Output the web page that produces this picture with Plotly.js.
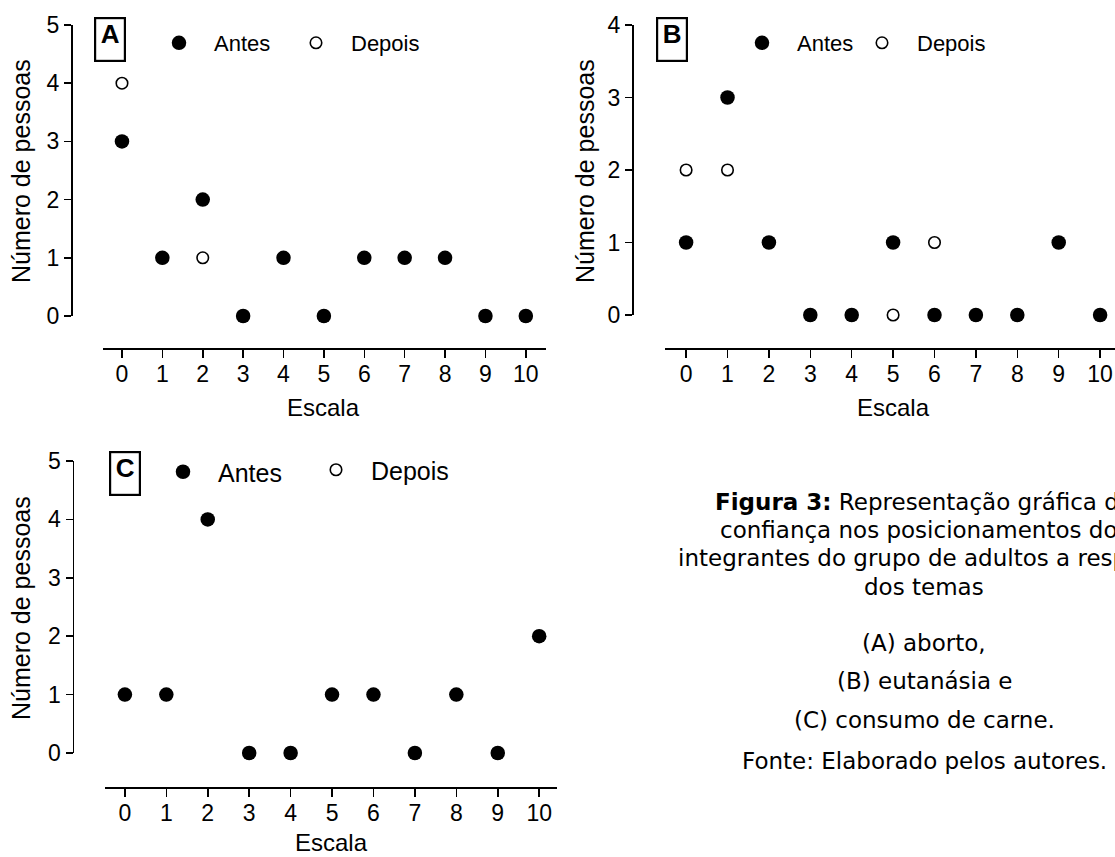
<!DOCTYPE html>
<html>
<head>
<meta charset="utf-8">
<script src="https://cdn.plot.ly/plotly-3.0.1.min.js"></script>
<style>html,body{margin:0;padding:0;background:#fff;}#chart{width:1115px;height:857px;}</style>
</head>
<body>
<div id="chart"></div>
<script>
// ---- data ----
const escala = [0, 1, 2, 3, 4, 5, 6, 7, 8, 9, 10];
const escalaLabels = ["0", "1", "2", "3", "4", "5", "6", "7", "8", "9", "10"];

// (A) aborto
const antesA  = [3, 1, 2, 0, 1, 0, 1, 1, 1, 0, 0];
const depoisA = [4, 1, 1, 0, 1, 0, 1, 1, 1, 0, 0];
// (B) eutanásia
const antesB  = [1, 3, 1, 0, 0, 1, 0, 0, 0, 1, 0];
const depoisB = [2, 2, 1, 0, 0, 0, 1, 0, 0, 1, 0];
// (C) consumo de carne
const antesC  = [1, 1, 4, 0, 0, 1, 1, 0, 1, 0, 2];
const depoisC = [1, 1, 4, 0, 0, 1, 1, 0, 1, 0, 2];

const seriesNames = ["Antes", "Depois"];
const panelLetters = ["A", "B", "C"];
const yTitle = "Número de pessoas";
const xTitle = "Escala";
const captionLines = [
  "<b>Figura 3:</b> Representação gráfica da",
  "confiança nos posicionamentos dos",
  "integrantes do grupo de adultos a respeito",
  "dos temas",
  "(A) aborto,",
  "(B) eutanásia e",
  "(C) consumo de carne.",
  "Fonte: Elaborado pelos autores."
];

// ---- layout helpers ----
const W = 1115, H = 857;
const px = v => v / W;
const py = v => 1 - v / H;
const AX = "Liberation Sans, Arial, sans-serif";
const CAP = "DejaVu Sans, Verdana, sans-serif";

function openTrace(y, xa, ya, lg) {
  return {
    x: escala, y: y, xaxis: xa, yaxis: ya, type: "scatter", mode: "markers",
    name: seriesNames[1], legend: lg, cliponaxis: false, hoverinfo: "skip",
    marker: {symbol: "circle", size: 11.5, color: "#ffffff", line: {color: "#000000", width: 1.6}}
  };
}
function filledTrace(y, xa, ya, lg) {
  return {
    x: escala, y: y, xaxis: xa, yaxis: ya, type: "scatter", mode: "markers",
    name: seriesNames[0], legend: lg, cliponaxis: false, hoverinfo: "skip",
    marker: {symbol: "circle", size: 14.5, color: "#000000", line: {color: "#000000", width: 0}}
  };
}

const data = [
  openTrace(depoisA, "x", "y", "legend2"),
  filledTrace(antesA, "x", "y", "legend"),
  openTrace(depoisB, "x2", "y2", "legend4"),
  filledTrace(antesB, "x2", "y2", "legend3"),
  openTrace(depoisC, "x3", "y3", "legend6"),
  filledTrace(antesC, "x3", "y3", "legend5")
];

function xAxis(d0, d1, r0, r1, ypos) {
  return {
    domain: [px(d0), px(d1)], range: [r0, r1], anchor: "free", position: py(ypos),
    showline: true, linecolor: "#000", linewidth: 1.5,
    ticks: "outside", ticklen: 8, tickwidth: 1.5, tickcolor: "#000",
    tickmode: "array", tickvals: escala, ticktext: escalaLabels,
    ticklabelstandoff: -3,
    tickfont: {family: AX, size: 23, color: "#000"},
    showgrid: false, zeroline: false, fixedrange: true
  };
}
function yAxis(top, bottom, rmax, xpos) {
  return {
    domain: [py(bottom), py(top)], range: [0, rmax], anchor: "free", position: px(xpos),
    showline: true, linecolor: "#000", linewidth: 1.5,
    ticks: "outside", ticklen: 7, tickwidth: 1.5, tickcolor: "#000",
    dtick: 1, tick0: 0,
    tickfont: {family: AX, size: 23, color: "#000"},
    showgrid: false, zeroline: false, fixedrange: true
  };
}
function legendAt(mx, my, fs) {
  return {
    x: px(mx - 35), y: py(my), xanchor: "left", yanchor: "middle",
    orientation: "h", bgcolor: "rgba(0,0,0,0)", borderwidth: 0,
    itemwidth: 60, font: {family: AX, size: fs, color: "#000"}
  };
}

const annotations = [];
function boxLabel(letter, cx, cy) {
  annotations.push({
    xref: "paper", yref: "paper", x: px(cx), y: py(cy), xanchor: "center", yanchor: "middle",
    text: "<b>" + letter + "</b>", showarrow: false, width: 28, height: 41, valign: "top",
    bordercolor: "#000", borderwidth: 2.2, borderpad: 0,
    font: {family: AX, size: 26, color: "#000"}
  });
}
function yTitleAt(cx, cy) {
  annotations.push({
    xref: "paper", yref: "paper", x: px(cx), y: py(cy), xanchor: "center", yanchor: "middle",
    text: yTitle, textangle: -90, showarrow: false,
    font: {family: AX, size: 25, color: "#000"}
  });
}
function xTitleAt(cx, cy) {
  annotations.push({
    xref: "paper", yref: "paper", x: px(cx), y: py(cy), xanchor: "center", yanchor: "middle",
    text: xTitle, showarrow: false,
    font: {family: AX, size: 24, color: "#000"}
  });
}
boxLabel(panelLetters[0], 110, 39.5);
boxLabel(panelLetters[1], 672, 39.5);
boxLabel(panelLetters[2], 125, 473);
yTitleAt(21, 171);
yTitleAt(585, 171);
yTitleAt(21, 608);
xTitleAt(324, 407);
xTitleAt(893, 407);
xTitleAt(331, 842);

const capY = [502, 530, 558, 587, 643, 681, 720, 761];
captionLines.forEach((t, i) => {
  annotations.push({
    xref: "paper", yref: "paper", x: px(924), y: py(capY[i]), xanchor: "center", yanchor: "middle",
    text: t, showarrow: false,
    font: {family: CAP, size: 23, color: "#000"}
  });
});

const layout = {
  width: W, height: H, margin: {l: 0, r: 0, t: 0, b: 0},
  paper_bgcolor: "#fff", plot_bgcolor: "rgba(0,0,0,0)",
  showlegend: true,
  xaxis: xAxis(103, 546, -0.47, 10.5, 348),
  yaxis: yAxis(25, 316, 5, 71),
  xaxis2: xAxis(665, 1115, -0.51, 10.36, 348),
  yaxis2: yAxis(25, 315, 4, 632),
  xaxis3: xAxis(105, 557, -0.48, 10.43, 787),
  yaxis3: yAxis(461, 753, 5, 72.5),
  legend: legendAt(179, 43, 22),
  legend2: legendAt(316, 43, 22),
  legend3: legendAt(762, 43, 22),
  legend4: legendAt(882, 43, 22),
  legend5: legendAt(183, 472, 25),
  legend6: legendAt(336, 470, 25),
  annotations: annotations
};

Plotly.newPlot("chart", data, layout, {displayModeBar: false, staticPlot: true});
</script>
</body>
</html>
